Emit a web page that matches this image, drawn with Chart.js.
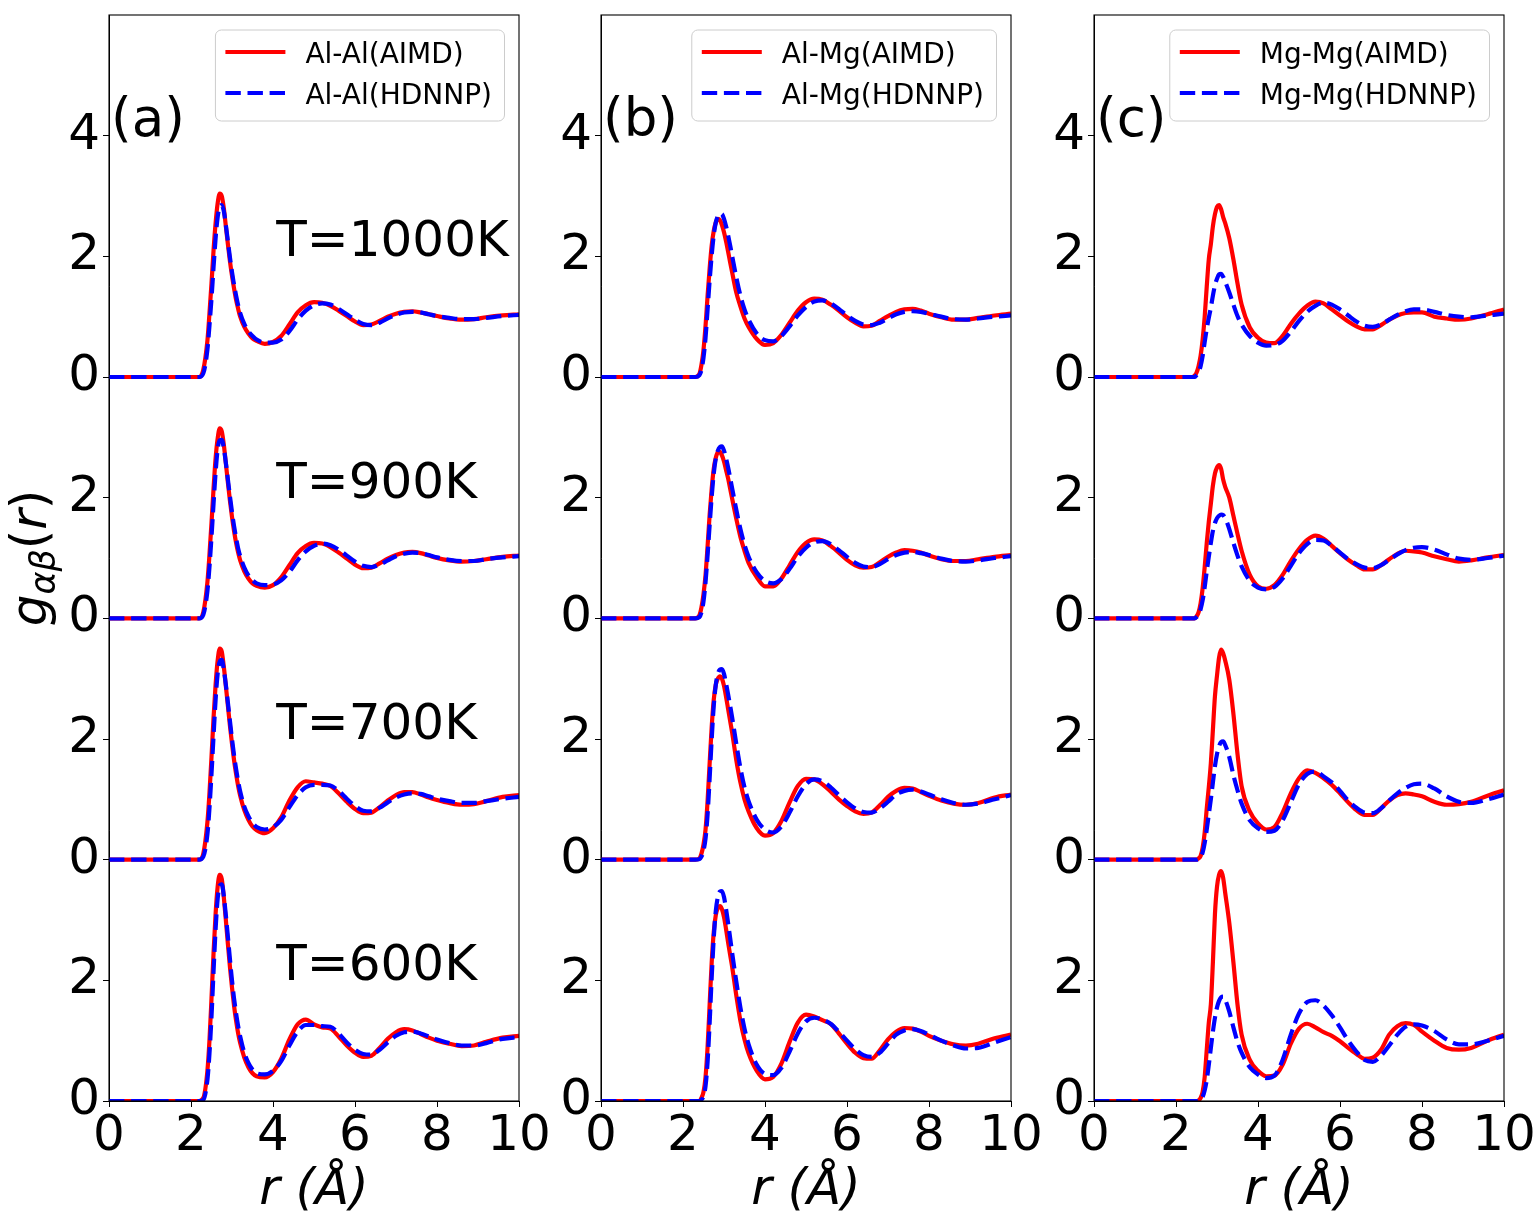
<!DOCTYPE html>
<html><head><meta charset="utf-8">
<script src="https://cdn.jsdelivr.net/npm/chart.js@4.4.1/dist/chart.umd.min.js"></script>
<style>
html,body{margin:0;padding:0;background:#fff;overflow:hidden;width:1536px;height:1222px;}
canvas{position:absolute;top:0;}
</style></head><body>
<canvas id="ca" width="560" height="1222" style="left:0px"></canvas>
<canvas id="cb" width="560" height="1222" style="left:492px"></canvas>
<canvas id="cc" width="551" height="1222" style="left:985px"></canvas>
<script>
// r grid (Å)
const R = [0, 2.0, 2.2, 2.3, 2.4, 2.45, 2.5, 2.55, 2.6, 2.65, 2.7, 2.75, 2.8, 2.85, 2.9, 2.95, 3.0, 3.05, 3.1, 3.15, 3.2, 3.3, 3.4, 3.5, 3.6, 3.8, 4.0, 4.2, 4.4, 4.6, 4.8, 5.0, 5.2, 5.4, 5.6, 5.8, 6.0, 6.2, 6.4, 6.6, 6.8, 7.0, 7.2, 7.4, 7.6, 7.8, 8.0, 8.3, 8.6, 8.9, 9.2, 9.6, 10];

const TEMPS = ['T=1000K', 'T=900K', 'T=700K', 'T=600K'];
const OFFSETS = [12, 8, 4, 0];
const PAIRS = ['Al-Al', 'Al-Mg', 'Mg-Mg'];
const TAGS = ['(a)', '(b)', '(c)'];
const X_TICKS = [0, 2, 4, 6, 8, 10];
const Y_TICKS = [0, 2, 4, 6, 8, 10, 12, 14, 16];
const Y_TICK_LABELS = ['0', '2', '0', '2', '0', '2', '0', '2', '4'];

// ---- Al-Al ----
const alal_aimd_1000 = [0,0,0,0.12, 0.6,1.05,1.55,2.1,2.55,2.88,3.04,3.0,2.8,2.5,2.2,1.92,1.68,1.47,1.28,1.13,1.0, 0.83,0.72,0.64,0.6, 0.55,0.58,0.68,0.87,1.07,1.19,1.24,1.23,1.18,1.1,1.01,0.92,0.86,0.87,0.93,1.0,1.05,1.08,1.09,1.07,1.04,1.01, 0.97,0.95,0.96,0.99,1.02,1.04];
const alal_nnp_1000  = [0,0,0,0.06, 0.45,0.85,1.3,1.82,2.3,2.65,2.82,2.85,2.75,2.52,2.25,1.98,1.74,1.53,1.35,1.19,1.06, 0.88,0.76,0.68,0.62, 0.57,0.57,0.62,0.76,0.95,1.1,1.19,1.22,1.2,1.13,1.04,0.95,0.88,0.86,0.9,0.97,1.03,1.07,1.08,1.07,1.04,1.01, 0.98,0.96,0.96,0.98,1.01,1.03];
const alal_aimd_900  = [0,0,0,0.1, 0.6,1.05,1.58,2.15,2.65,2.98,3.15,3.1,2.88,2.57,2.25,1.95,1.68,1.45,1.25,1.09,0.96, 0.78,0.66,0.58,0.54, 0.51,0.55,0.68,0.88,1.08,1.2,1.25,1.24,1.18,1.09,0.99,0.89,0.83,0.84,0.91,0.99,1.05,1.09,1.1,1.08,1.04,1.0, 0.96,0.94,0.95,0.98,1.02,1.04];
const alal_nnp_900   = [0,0,0,0.06, 0.45,0.85,1.35,1.9,2.42,2.8,2.95,2.96,2.82,2.58,2.3,2.02,1.76,1.53,1.33,1.16,1.03, 0.84,0.71,0.63,0.58, 0.55,0.56,0.63,0.77,0.96,1.11,1.2,1.24,1.21,1.14,1.04,0.94,0.87,0.85,0.89,0.96,1.03,1.07,1.09,1.08,1.05,1.01, 0.97,0.95,0.95,0.98,1.01,1.03];
const alal_aimd_700  = [0,0,0,0.1, 0.62,1.1,1.7,2.35,2.9,3.3,3.5,3.45,3.2,2.88,2.55,2.22,1.92,1.65,1.42,1.22,1.06, 0.82,0.66,0.55,0.49, 0.44,0.52,0.7,0.98,1.2,1.3,1.28,1.26,1.22,1.1,0.96,0.84,0.77,0.78,0.87,0.98,1.07,1.12,1.12,1.08,1.03,0.99, 0.94,0.91,0.92,0.97,1.04,1.07];
const alal_nnp_700   = [0,0,0,0.05, 0.42,0.85,1.42,2.05,2.65,3.08,3.28,3.31,3.15,2.9,2.6,2.3,2.0,1.73,1.5,1.3,1.13, 0.88,0.72,0.61,0.54, 0.5,0.54,0.66,0.87,1.07,1.2,1.24,1.24,1.23,1.14,1.01,0.89,0.81,0.8,0.86,0.95,1.03,1.08,1.1,1.09,1.05,1.01, 0.97,0.94,0.94,0.97,1.01,1.04];
const alal_aimd_600  = [0,0,0,0.05, 0.5,1.0,1.7,2.45,3.1,3.55,3.75,3.68,3.38,3.0,2.6,2.22,1.88,1.58,1.33,1.12,0.96, 0.72,0.56,0.46,0.41, 0.39,0.48,0.7,1.02,1.27,1.35,1.27,1.22,1.2,1.07,0.92,0.8,0.73,0.75,0.88,1.03,1.14,1.19,1.17,1.11,1.05,1.0, 0.95,0.91,0.92,0.98,1.05,1.08];
const alal_nnp_600   = [0,0,0,0.02, 0.35,0.78,1.4,2.15,2.85,3.35,3.57,3.59,3.4,3.08,2.72,2.35,2.0,1.7,1.45,1.24,1.07, 0.8,0.63,0.52,0.46, 0.44,0.5,0.66,0.92,1.15,1.26,1.26,1.24,1.23,1.12,0.97,0.85,0.78,0.77,0.85,0.97,1.08,1.14,1.15,1.12,1.07,1.02, 0.96,0.92,0.92,0.96,1.03,1.06];

// ---- Al-Mg ----
const almg_aimd_1000 = [0,0,0,0, 0.05,0.2,0.45,0.85,1.35,1.8,2.18,2.42,2.56,2.62,2.6,2.52,2.4,2.25,2.08,1.9,1.73, 1.4,1.17,0.97,0.83, 0.63,0.53,0.56,0.7,0.9,1.1,1.24,1.3,1.28,1.2,1.1,0.99,0.9,0.84,0.85,0.93,1.01,1.08,1.12,1.13,1.1,1.05, 0.99,0.95,0.95,0.98,1.02,1.05];
const almg_nnp_1000  = [0,0,0,0, 0.03,0.12,0.32,0.65,1.12,1.6,2.02,2.35,2.56,2.67,2.71,2.7,2.62,2.5,2.35,2.18,2.0, 1.65,1.35,1.12,0.95, 0.72,0.61,0.59,0.68,0.84,1.02,1.16,1.25,1.27,1.22,1.13,1.02,0.93,0.87,0.86,0.9,0.97,1.04,1.08,1.09,1.08,1.05, 1.0,0.96,0.95,0.97,1.0,1.02];
const almg_aimd_900  = [0,0,0,0, 0.05,0.18,0.4,0.72,1.2,1.72,2.15,2.48,2.66,2.75,2.76,2.7,2.6,2.46,2.32,2.15,1.98, 1.65,1.35,1.12,0.92, 0.68,0.53,0.53,0.66,0.88,1.1,1.25,1.31,1.29,1.2,1.09,0.97,0.88,0.84,0.85,0.93,1.02,1.09,1.13,1.12,1.09,1.04, 0.98,0.95,0.95,0.98,1.02,1.05];
const almg_nnp_900   = [0,0,0,0, 0.02,0.1,0.28,0.6,1.05,1.55,2.02,2.4,2.65,2.78,2.84,2.85,2.78,2.65,2.5,2.33,2.15, 1.8,1.48,1.22,1.02, 0.76,0.62,0.58,0.65,0.82,1.02,1.17,1.26,1.28,1.23,1.13,1.02,0.92,0.86,0.85,0.9,0.98,1.05,1.09,1.1,1.08,1.05, 0.99,0.95,0.94,0.96,1.0,1.03];
const almg_aimd_700  = [0,0,0,0, 0.02,0.1,0.25,0.5,0.98,1.6,2.2,2.65,2.9,3.0,3.04,3.0,2.88,2.7,2.5,2.3,2.1, 1.65,1.28,1.0,0.8, 0.52,0.4,0.44,0.64,0.95,1.22,1.34,1.33,1.25,1.13,1.0,0.89,0.8,0.76,0.78,0.9,1.04,1.14,1.19,1.18,1.12,1.06, 0.98,0.93,0.91,0.94,1.03,1.08];
const almg_nnp_700   = [0,0,0,0, 0.01,0.05,0.15,0.35,0.75,1.35,2.0,2.55,2.9,3.08,3.15,3.16,3.08,2.92,2.74,2.55,2.35, 1.92,1.52,1.2,0.97, 0.66,0.5,0.45,0.55,0.78,1.05,1.25,1.33,1.3,1.2,1.07,0.95,0.85,0.79,0.78,0.85,0.96,1.08,1.14,1.16,1.13,1.08, 1.0,0.94,0.91,0.93,1.0,1.07];
const almg_aimd_600  = [0,0,0,0, 0,0.05,0.15,0.4,0.9,1.6,2.3,2.8,3.08,3.2,3.23,3.18,3.05,2.85,2.63,2.42,2.22, 1.75,1.33,1.02,0.79, 0.5,0.36,0.4,0.62,0.98,1.3,1.43,1.4,1.34,1.28,1.12,0.95,0.8,0.71,0.7,0.84,1.02,1.15,1.21,1.2,1.15,1.08, 1.0,0.94,0.92,0.95,1.04,1.1];
const almg_nnp_600   = [0,0,0,0, 0,0.02,0.08,0.25,0.65,1.3,2.05,2.7,3.15,3.38,3.47,3.48,3.38,3.18,2.95,2.7,2.45, 1.98,1.55,1.2,0.94, 0.6,0.45,0.43,0.55,0.82,1.12,1.32,1.38,1.35,1.28,1.15,1.0,0.86,0.76,0.73,0.8,0.95,1.1,1.17,1.19,1.16,1.1, 1.0,0.92,0.87,0.88,0.97,1.06];

// ---- Mg-Mg ----
const mgmg_aimd_1000 = [0,0,0,0, 0,0.02,0.07,0.18,0.35,0.62,1.0,1.5,1.95,2.2,2.5,2.7,2.82,2.85,2.78,2.65,2.55, 2.3,1.95,1.55,1.2, 0.82,0.65,0.57,0.56,0.68,0.88,1.05,1.18,1.25,1.22,1.12,1.02,0.92,0.84,0.79,0.79,0.86,0.95,1.02,1.06,1.07,1.07, 1.0,0.97,0.95,0.97,1.04,1.12];
const mgmg_nnp_1000  = [0,0,0,0, 0,0,0.03,0.08,0.18,0.35,0.58,0.8,0.98,1.15,1.35,1.52,1.63,1.7,1.71,1.66,1.58, 1.4,1.2,1.01,0.87, 0.68,0.57,0.52,0.53,0.6,0.75,0.93,1.08,1.18,1.23,1.2,1.12,1.02,0.92,0.85,0.83,0.87,0.95,1.03,1.09,1.12,1.12, 1.08,1.03,1.0,0.99,1.02,1.05];
const mgmg_aimd_900  = [0,0,0,0, 0,0,0.03,0.1,0.25,0.5,0.85,1.25,1.6,1.9,2.2,2.4,2.5,2.54,2.48,2.3,2.18, 2.0,1.7,1.4,1.12, 0.72,0.53,0.49,0.55,0.72,0.95,1.15,1.3,1.37,1.32,1.2,1.08,0.97,0.88,0.81,0.81,0.88,0.98,1.07,1.12,1.11,1.09, 1.03,0.98,0.94,0.96,1.01,1.05];
const mgmg_nnp_900   = [0,0,0,0, 0,0,0.02,0.06,0.15,0.3,0.52,0.78,1.02,1.25,1.45,1.58,1.66,1.7,1.72,1.71,1.66, 1.48,1.25,1.04,0.86, 0.62,0.51,0.48,0.52,0.66,0.87,1.08,1.23,1.3,1.29,1.2,1.09,0.98,0.9,0.84,0.83,0.88,0.97,1.06,1.13,1.17,1.18, 1.14,1.06,0.99,0.97,1.0,1.04];
const mgmg_aimd_700  = [0,0,0,0, 0,0,0,0.02,0.06,0.2,0.45,0.85,1.2,1.6,2.15,2.71,3.05,3.35,3.48,3.42,3.3, 2.98,2.42,1.75,1.22, 0.8,0.6,0.5,0.54,0.78,1.1,1.35,1.48,1.44,1.35,1.24,1.1,0.95,0.82,0.74,0.74,0.85,0.98,1.07,1.1,1.08,1.05, 0.96,0.91,0.92,0.96,1.06,1.15];
const mgmg_nnp_700   = [0,0,0,0, 0,0,0,0.01,0.04,0.12,0.28,0.5,0.75,1.0,1.28,1.55,1.75,1.88,1.95,1.96,1.9, 1.7,1.4,1.15,0.93, 0.65,0.52,0.46,0.48,0.65,0.95,1.25,1.42,1.46,1.38,1.28,1.14,0.98,0.86,0.78,0.77,0.85,0.98,1.1,1.19,1.25,1.26, 1.18,1.05,0.96,0.94,1.0,1.08];
const mgmg_aimd_600  = [0,0,0,0, 0,0,0,0.01,0.05,0.15,0.4,0.85,1.3,1.6,2.3,3.1,3.55,3.75,3.81,3.7,3.45, 2.95,2.3,1.6,1.1, 0.68,0.5,0.41,0.42,0.6,0.95,1.2,1.28,1.22,1.14,1.08,0.99,0.88,0.78,0.7,0.72,0.85,1.1,1.24,1.29,1.26,1.15, 1.0,0.88,0.85,0.88,1.0,1.1];
const mgmg_nnp_600   = [0,0,0,0, 0,0,0,0,0.02,0.07,0.18,0.35,0.6,0.88,1.15,1.38,1.55,1.66,1.72,1.73,1.68, 1.48,1.22,0.98,0.8, 0.56,0.44,0.38,0.42,0.68,1.1,1.45,1.64,1.67,1.58,1.42,1.22,1.0,0.82,0.68,0.65,0.75,0.92,1.1,1.23,1.27,1.25, 1.16,1.02,0.94,0.94,1.0,1.08];

const COLUMNS = [
  {aimd: [alal_aimd_1000, alal_aimd_900, alal_aimd_700, alal_aimd_600], nnp: [alal_nnp_1000, alal_nnp_900, alal_nnp_700, alal_nnp_600]},
  {aimd: [almg_aimd_1000, almg_aimd_900, almg_aimd_700, almg_aimd_600], nnp: [almg_nnp_1000, almg_nnp_900, almg_nnp_700, almg_nnp_600]},
  {aimd: [mgmg_aimd_1000, mgmg_aimd_900, mgmg_aimd_700, mgmg_aimd_600], nnp: [mgmg_nnp_1000, mgmg_nnp_900, mgmg_nnp_700, mgmg_nnp_600]}
];

const FONT = '"DejaVu Sans", "Liberation Sans", sans-serif';
const RED = '#ff0000', BLUE = '#0000ff';
const LW = 4.2, DASH = [15.4, 6.7];

function drawYTitle(ctx, cx, cy) {
  ctx.save();
  ctx.translate(cx, cy);
  ctx.rotate(-Math.PI / 2);
  const parts = [
    {t: 'g', f: 'italic 50px ' + FONT, dy: 0},
    {t: 'αβ', f: 'italic 35px ' + FONT, dy: 9},
    {t: '(', f: '50px ' + FONT, dy: 0},
    {t: 'r', f: 'italic 50px ' + FONT, dy: 0},
    {t: ')', f: '50px ' + FONT, dy: 0}
  ];
  let total = 0;
  parts.forEach(p => { ctx.font = p.f; p.w = ctx.measureText(p.t).width; total += p.w; });
  let x = -total / 2;
  ctx.fillStyle = '#000'; ctx.textAlign = 'left'; ctx.textBaseline = 'alphabetic';
  parts.forEach(p => { ctx.font = p.f; ctx.fillText(p.t, x, p.dy); x += p.w; });
  ctx.restore();
}

const decor = {
  id: 'decor',
  afterDatasetsDraw(chart, args, opts) {
    const {ctx, chartArea: a} = chart;
    const xs = chart.scales.x, ys = chart.scales.y;
    ctx.save();
    // frame
    ctx.strokeStyle = '#000'; ctx.lineWidth = 1.1; ctx.setLineDash([]);
    ctx.strokeRect(a.left, a.top, a.right - a.left, a.bottom - a.top);
    // legend
    const ds = chart.data.datasets;
    const items = [ds.find(d => d.kind === 'aimd'), ds.find(d => d.kind === 'nnp')];
    ctx.font = '28px ' + FONT;
    const tw = Math.max(...items.map(d => ctx.measureText(d.label).width));
    const right = a.right - 14.5;
    const textX = right - 12.5 - tw;
    const hEnd = textX - 20, hStart = hEnd - 60, left = hStart - 10;
    const top = a.top + 15, h = 91;
    ctx.beginPath();
    ctx.roundRect(left, top, right - left, h, 6);
    ctx.fillStyle = 'rgba(255,255,255,0.8)'; ctx.fill();
    ctx.strokeStyle = '#cccccc'; ctx.lineWidth = 1; ctx.stroke();
    items.forEach((d, i) => {
      const yy = top + 22 + i * 41;
      ctx.beginPath();
      ctx.strokeStyle = d.borderColor; ctx.lineWidth = LW;
      ctx.setLineDash(d.borderDash || []);
      ctx.moveTo(hStart, yy); ctx.lineTo(hEnd, yy); ctx.stroke();
      ctx.setLineDash([]);
      ctx.fillStyle = '#000'; ctx.textAlign = 'left'; ctx.textBaseline = 'alphabetic';
      ctx.fillText(d.label, textX, yy + 10.5);
    });
    // panel tag
    ctx.fillStyle = '#000'; ctx.textAlign = 'left'; ctx.textBaseline = 'alphabetic';
    ctx.font = '53px ' + FONT;
    ctx.fillText(opts.tag, xs.getPixelForValue(0.05), ys.getPixelForValue(16));
    if (opts.temps) {
      ctx.font = '50px ' + FONT;
      TEMPS.forEach((t, i) => ctx.fillText(t, xs.getPixelForValue(4.08), ys.getPixelForValue(OFFSETS[i] + 2)));
    }
    if (opts.ytitle) drawYTitle(ctx, 46, (a.top + a.bottom) / 2);
    ctx.restore();
  }
};

function makeChart(id, col, padRight) {
  const c = COLUMNS[col];
  const datasets = [];
  for (let k = 0; k < 4; k++) {
    datasets.push({
      label: PAIRS[col] + '(AIMD)', kind: 'aimd', temp: TEMPS[k],
      data: R.map((r, i) => ({x: r, y: c.aimd[k][i] + OFFSETS[k]})),
      borderColor: RED, borderWidth: LW, order: 2,
      pointRadius: 0, cubicInterpolationMode: 'monotone', fill: false
    });
    datasets.push({
      label: PAIRS[col] + '(HDNNP)', kind: 'nnp', temp: TEMPS[k],
      data: R.map((r, i) => ({x: r, y: c.nnp[k][i] + OFFSETS[k]})),
      borderColor: BLUE, borderWidth: LW, borderDash: DASH, order: 1,
      pointRadius: 0, cubicInterpolationMode: 'monotone', fill: false
    });
  }
  return new Chart(document.getElementById(id), {
    type: 'line',
    data: {datasets},
    options: {
      responsive: false, animation: false, devicePixelRatio: 1,
      layout: {padding: {top: 15, right: padRight, bottom: 0, left: 0}},
      plugins: {legend: {display: false}, tooltip: {enabled: false},
        decor: {tag: TAGS[col], temps: col === 0, ytitle: col === 0}},
      scales: {
        x: {
          type: 'linear', min: 0, max: 10,
          afterBuildTicks: s => { s.ticks = X_TICKS.map(v => ({value: v})); },
          afterFit: s => { s.height = 121; s.paddingLeft = 0; s.paddingRight = 0; },
          ticks: {autoSkip: false, maxRotation: 0, padding: 0, color: '#000', font: {family: FONT, size: 50}, callback: v => String(v)},
          grid: {display: true, drawOnChartArea: false, drawTicks: true, tickLength: 6, color: '#000', lineWidth: 1},
          border: {display: true, color: '#000', width: 1},
          title: {display: true, text: 'r (Å)', color: '#000', font: {family: FONT, size: 50, style: 'italic'}, padding: {top: 0, bottom: 1}}
        },
        y: {
          type: 'linear', min: 0, max: 18,
          afterBuildTicks: s => { s.ticks = Y_TICKS.map(v => ({value: v})); },
          afterFit: s => { s.width = 109; s.paddingTop = 0; s.paddingBottom = 0; },
          ticks: {autoSkip: false, padding: 3, color: '#000', font: {family: FONT, size: 50},
            callback: v => Y_TICK_LABELS[Y_TICKS.indexOf(v)]},
          grid: {display: true, drawOnChartArea: false, drawTicks: true, tickLength: 6, color: '#000', lineWidth: 1},
          border: {display: true, color: '#000', width: 1}
        }
      }
    },
    plugins: [decor]
  });
}

makeChart('ca', 0, 41);
makeChart('cb', 1, 41);
makeChart('cc', 2, 32);
</script>
</body></html>
